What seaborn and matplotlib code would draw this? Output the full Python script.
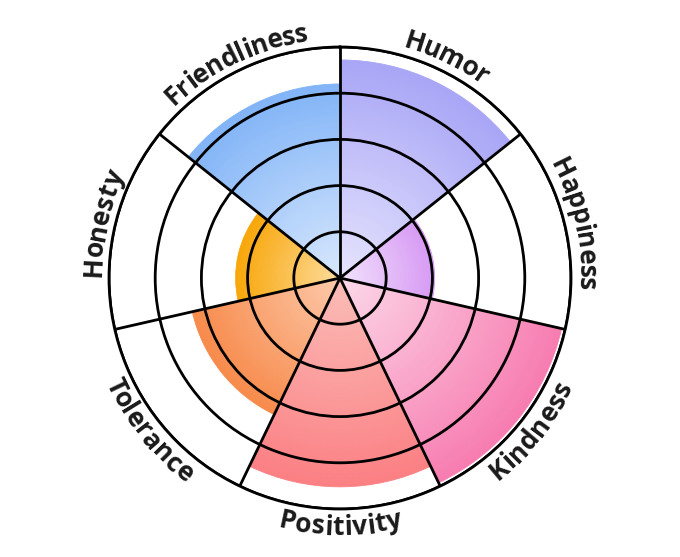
import numpy as np
import matplotlib
matplotlib.use("Agg")
import matplotlib.pyplot as plt
import seaborn as sns
from matplotlib.font_manager import FontProperties

# data (clockwise from the top)
traits = ["Humor", "Happiness", "Kindness", "Positivity", "Tolerance", "Honesty", "Friendliness"]
scores = [4.72, 2.05, 4.92, 4.52, 3.28, 2.26, 4.2]
inner_colors = ["#e6e4fd", "#f2e3fc", "#fcd8e8", "#fbbdb8", "#fdc9aa", "#fddc9c", "#d8e8fd"]
outer_colors = ["#a9a6f6", "#d79af4", "#f77db1", "#fb8084", "#f78b4c", "#f8a70a", "#82b4f7"]
rings = [1, 2, 3, 4, 5]

sns.set_theme(style="white")
plt.rcParams["font.family"] = ["Open Sans", "DejaVu Sans"]

W, H = 680, 557
fig = plt.figure(figsize=(W / 100, H / 100), dpi=100)
cx, cy, R = 340, H - 278, 231
ax = fig.add_axes([(cx - R) / W, (cy - R) / H, 2 * R / W, 2 * R / H], projection="polar")
ax.set_theta_zero_location("N")
ax.set_theta_direction(-1)
ax.set_ylim(0, rings[-1])

n = len(traits)
width = 2 * np.pi / n
mids = np.arange(n) * width + width / 2

# gradient wedges: many thin stacked bars per trait
steps = 60
for mid, val, c0, c1 in zip(mids, scores, inner_colors, outer_colors):
    pal = sns.blend_palette([c0, c1], n_colors=steps)
    dr = val / steps
    for i in range(steps):
        ax.bar(mid, dr, width=width, bottom=i * dr, color=pal[i],
               edgecolor=pal[i], linewidth=0.6, zorder=1)

# grid on top
ax.set_xticks(np.arange(n) * width)
ax.set_yticks(rings)
ax.set_xticklabels([])
ax.set_yticklabels([])
ax.grid(True, color="black", linewidth=2)
ax.set_axisbelow(False)
for gl in ax.xaxis.get_gridlines() + ax.yaxis.get_gridlines():
    gl.set_zorder(3)
ax.spines["polar"].set_color("black")
ax.spines["polar"].set_linewidth(2)
ax.spines["polar"].set_zorder(4)

# curved labels
fp = FontProperties(family="Open Sans", weight="bold", size=19)
renderer = fig.canvas.get_renderer()
px_per_unit = R / rings[-1]


def text_w(s):
    if not s:
        return 0.0
    w, _, _ = renderer.get_text_width_height_descent(s, fp, ismath=False)
    return w


for mid, name in zip(mids, traits):
    deg = np.degrees(mid)
    flipped = 95 < deg < 265
    total = text_w(name)
    if flipped:
        r_base, r_mid = 257 / px_per_unit, 248
    else:
        r_base, r_mid = 239 / px_per_unit, 249
    for i, ch in enumerate(name):
        off = (text_w(name[:i]) + text_w(name[:i + 1])) / 2 - total / 2
        dth = off / r_mid
        if flipped:
            th = mid - dth
            rot = 180 - np.degrees(th)
        else:
            th = mid + dth
            rot = -np.degrees(th)
        ax.text(th, r_base, ch, fontproperties=fp, rotation=rot,
                rotation_mode="anchor", ha="center", va="baseline",
                color="#1a1a1a", clip_on=False, zorder=5)

fig.savefig("out.png", dpi=100, facecolor="white")
